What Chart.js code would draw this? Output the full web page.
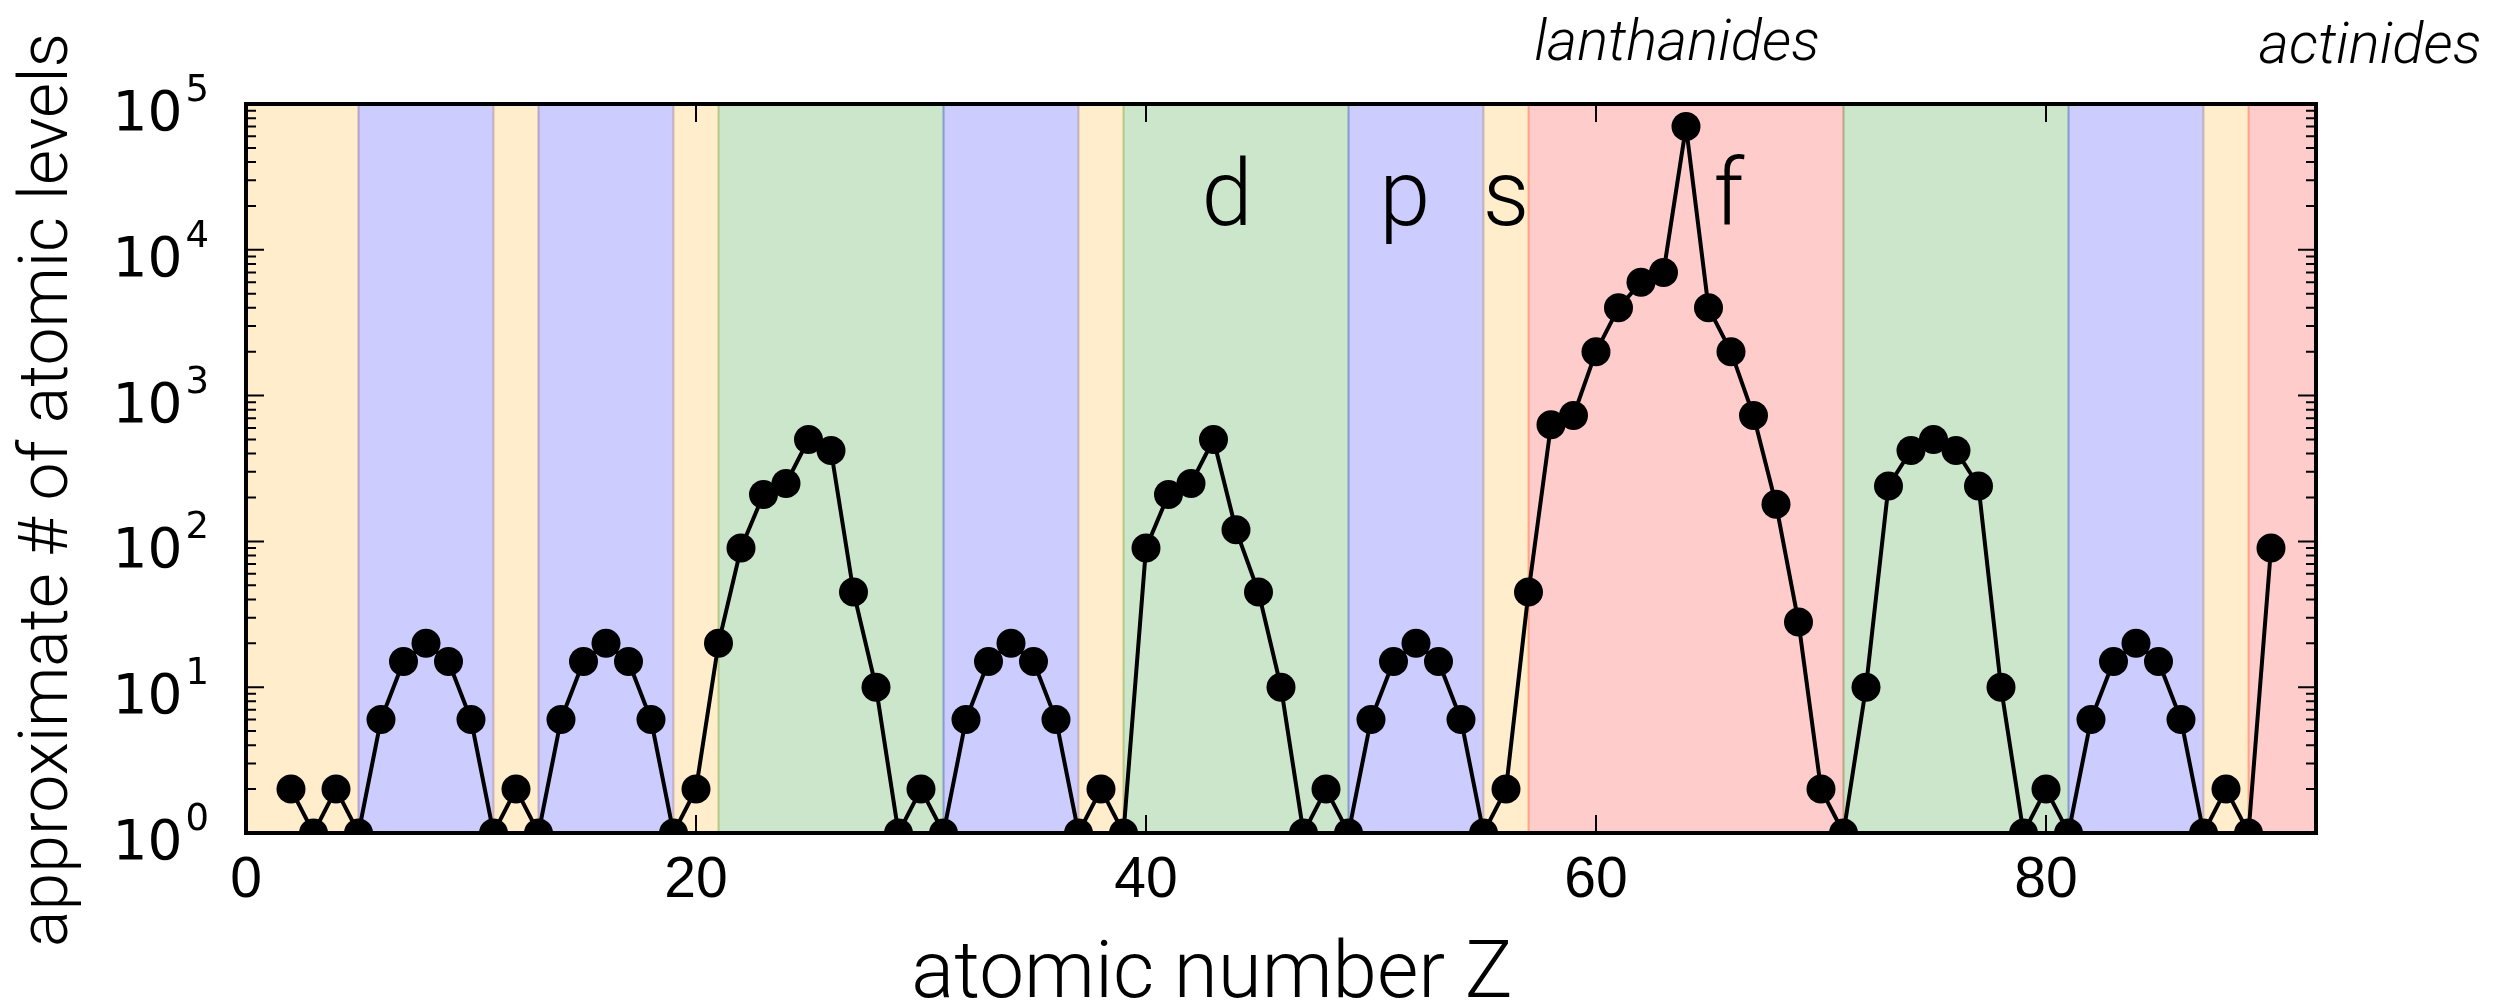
<!DOCTYPE html>
<html>
<head>
<meta charset="utf-8">
<script src="https://cdn.jsdelivr.net/npm/chart.js@4.4.1/dist/chart.umd.min.js"></script>
<style>
html, body { margin: 0; padding: 0; background: #fff; }
#wrap { width: 2520px; height: 1003px; }
</style>
</head>
<body>
<div id="wrap"><canvas id="chart"></canvas></div>
<script>
// atomic number and approximate number of levels
const atomicZ = [2, 3, 4, 5, 6, 7, 8, 9, 10, 11, 12, 13, 14, 15, 16, 17, 18, 19, 20,
  21, 22, 23, 24, 25, 26, 27, 28, 29, 30, 31, 32, 33, 34, 35, 36, 37, 38, 39, 40,
  41, 42, 43, 44, 45, 46, 47, 48, 49, 50, 51, 52, 53, 54, 55, 56, 57, 58, 59, 60,
  61, 62, 63, 64, 65, 66, 67, 68, 69, 70, 71, 72, 73, 74, 75, 76, 77, 78, 79, 80,
  81, 82, 83, 84, 85, 86, 87, 88, 89, 90];
const levels = [2, 1, 2, 1, 6, 15, 20, 15, 6, 1, 2, 1, 6, 15, 20, 15, 6, 1, 2,
  20, 90, 210, 250, 500, 420, 45, 10, 1, 2, 1, 6, 15, 20, 15, 6, 1, 2, 1, 90,
  210, 250, 500, 120, 45, 10, 1, 2, 1, 6, 15, 20, 15, 6, 1, 2, 45, 630, 730, 2000,
  4000, 6000, 7000, 70000, 4000, 2000, 730, 180, 28, 2, 1, 10, 240, 420, 500, 420, 240, 10, 1, 2,
  1, 6, 15, 20, 15, 6, 1, 2, 1, 90];

// shaded blocks of the periodic table
const bandStart = [0, 5, 11, 13, 19, 21, 31, 37, 39, 49, 55, 57, 71, 81, 87, 89];
const bandEnd   = [5, 11, 13, 19, 21, 31, 37, 39, 49, 55, 57, 71, 81, 87, 89, 92];
const bandBlock = ['s', 'p', 's', 'p', 's', 'd', 'p', 's', 'd', 'p', 's', 'f', 'd', 'p', 's', 'f'];

const xTicks = [0, 20, 40, 60, 80];
const yPowers = [0, 1, 2, 3, 4, 5];
const blockNames = ['d', 'p', 's', 'f'];
const rowNames = ['lanthanides', 'actinides'];

// where the annotations sit (in Z units)
const blockNameZ = [43.6, 51.5, 56, 65.9];
const rowNameZ = [63.6, 94.4];

const bandColors = {
  s: 'rgba(255,165,0,0.2)',
  p: 'rgba(0,0,255,0.2)',
  d: 'rgba(0,128,0,0.2)',
  f: 'rgba(255,0,0,0.2)'
};
const LIGHT = '"Roboto", "Liberation Sans", sans-serif';

const decor = {
  id: 'decor',
  beforeDatasetsDraw(chart) {
    const {ctx, chartArea: a, scales: {x}} = chart;
    ctx.save();
    bandStart.forEach((s, i) => {
      const x0 = x.getPixelForValue(s), x1 = x.getPixelForValue(bandEnd[i]);
      ctx.fillStyle = bandColors[bandBlock[i]];
      ctx.fillRect(x0, a.top, x1 - x0, a.bottom - a.top);
      ctx.strokeStyle = bandColors[bandBlock[i]];
      ctx.lineWidth = 2;
      ctx.beginPath();
      ctx.moveTo(x0, a.top); ctx.lineTo(x0, a.bottom);
      ctx.moveTo(x1, a.top); ctx.lineTo(x1, a.bottom);
      ctx.stroke();
    });
    ctx.restore();
  },
  afterDatasetsDraw(chart) {
    const {ctx, chartArea: a, scales: {x, y}} = chart;
    ctx.save();
    ctx.strokeStyle = '#000';

    // inward ticks
    ctx.lineWidth = 2;
    ctx.beginPath();
    xTicks.forEach(v => {
      const px = x.getPixelForValue(v);
      ctx.moveTo(px, a.bottom); ctx.lineTo(px, a.bottom - 18);
      ctx.moveTo(px, a.top); ctx.lineTo(px, a.top + 18);
    });
    yPowers.forEach(p => {
      const py = y.getPixelForValue(Math.pow(10, p));
      ctx.moveTo(a.left, py); ctx.lineTo(a.left + 18, py);
      ctx.moveTo(a.right, py); ctx.lineTo(a.right - 18, py);
      if (p < 5) {
        for (let m = 2; m <= 9; m++) {
          const pm = y.getPixelForValue(m * Math.pow(10, p));
          ctx.moveTo(a.left, pm); ctx.lineTo(a.left + 10, pm);
          ctx.moveTo(a.right, pm); ctx.lineTo(a.right - 10, pm);
        }
      }
    });
    ctx.stroke();

    // frame
    ctx.lineWidth = 4;
    ctx.strokeRect(a.left, a.top, a.right - a.left, a.bottom - a.top);

    // y tick labels 10^n
    ctx.fillStyle = '#000';
    ctx.textBaseline = 'alphabetic';
    yPowers.forEach(p => {
      const py = y.getPixelForValue(Math.pow(10, p));
      ctx.font = '37px "DejaVu Sans"';
      const ew = ctx.measureText(String(p)).width;
      ctx.textAlign = 'right';
      ctx.fillText(String(p), a.left - 37, py - 3);
      ctx.font = '55px "DejaVu Sans"';
      ctx.fillText('10', a.left - 37 - ew - 3, py + 26);
    });

    // block letters
    ctx.textAlign = 'center';
    ctx.font = '300 92px ' + LIGHT;
    blockNames.forEach((t, i) => {
      ctx.fillText(t, x.getPixelForValue(blockNameZ[i]), a.top + 121);
    });

    // row names above plot
    ctx.font = 'italic 300 58px ' + LIGHT;
    rowNames.forEach((t, i) => {
      ctx.fillText(t, x.getPixelForValue(rowNameZ[i]), i === 0 ? 60 : 63);
    });

    // axis titles
    ctx.font = '300 80px ' + LIGHT;
    ctx.fillText('atomic number Z', 1212, 997);
    ctx.translate(67, 490);
    ctx.rotate(-Math.PI / 2);
    ctx.font = '300 68px ' + LIGHT;
    ctx.fillText('approximate # of atomic levels', 0, 0);
    ctx.restore();
  }
};

new Chart(document.getElementById('chart'), {
  type: 'line',
  data: {
    datasets: [{
      data: atomicZ.map((z, i) => ({x: z, y: levels[i]})),
      borderColor: '#000',
      borderWidth: 4,
      pointRadius: 14.5,
      pointBackgroundColor: '#000',
      pointBorderWidth: 0,
      tension: 0
    }]
  },
  options: {
    responsive: true,
    maintainAspectRatio: false,
    animation: false,
    events: [],
    layout: { padding: { top: 104, right: 204, left: 0, bottom: 0 } },
    plugins: { legend: { display: false }, tooltip: { enabled: false } },
    scales: {
      x: {
        type: 'linear',
        min: 0,
        max: 92,
        grid: { display: false, drawTicks: false },
        border: { display: false },
        ticks: {
          stepSize: 20,
          includeBounds: false,
          color: '#000',
          padding: 14,
          font: { family: '"Liberation Sans", sans-serif', size: 57, weight: 'normal' }
        },
        afterFit(scale) { scale.height = 170; }
      },
      y: {
        type: 'logarithmic',
        min: 1,
        max: 100000,
        grid: { display: false },
        border: { display: false },
        ticks: { display: false },
        afterFit(scale) { scale.width = 246; }
      }
    }
  },
  plugins: [decor]
});
</script>
</body>
</html>
